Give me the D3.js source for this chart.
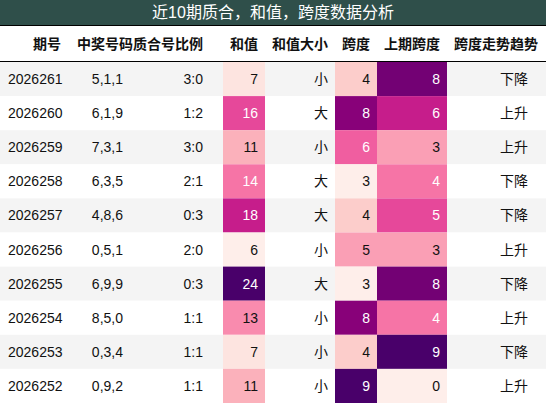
<!DOCTYPE html><html><head><meta charset="utf-8"><script src="https://cdn.jsdelivr.net/npm/d3@7"></script>
<style>body{margin:0;background:#fff}</style></head><body><svg id="c" width="546" height="403"></svg>
<script>
const title="近10期质合，和值，跨度数据分析";
const headers=["期号","中奖号码","质合号比例","和值","和值大小","跨度","上期跨度","跨度走势趋势"];
const issues=["2026261","2026260","2026259","2026258","2026257","2026256","2026255","2026254","2026253","2026252"];
const numbers=["5,1,1","6,1,9","7,3,1","6,3,5","4,8,6","0,5,1","6,9,9","8,5,0","0,3,4","0,9,2"];
const ratios=["3:0","1:2","3:0","2:1","0:3","2:0","0:3","1:1","1:1","1:1"];
const sums=[7,16,11,14,18,6,24,13,7,11];
const sizes=["小","大","小","大","大","小","大","小","小","小"];
const spans=[4,8,6,3,4,5,3,8,4,9];
const prevSpans=[8,6,3,4,5,3,8,4,9,0];
const trends=["下降","上升","上升","下降","下降","上升","下降","上升","下降","上升"];

const svg=d3.select("#c");
const font="'Liberation Sans','Noto Sans CJK SC',sans-serif";
const y=d3.scaleBand().domain(d3.range(10)).range([62,403]);
svg.append("rect").attr("x",0).attr("y",0).attr("width",546).attr("height",25).attr("fill","#2f4f4a");
svg.append("text").attr("x",273).attr("y",18).attr("text-anchor","middle").attr("fill","#fff").attr("font-size",16).attr("font-family",font).text(title);
svg.append("line").attr("x1",0).attr("x2",546).attr("y1",25.5).attr("y2",25.5).attr("stroke","#000");
svg.append("line").attr("x1",0).attr("x2",546).attr("y1",61.5).attr("y2",61.5).attr("stroke","#000");
const hx=[61,133,203,258,328,370,440,538];
headers.forEach((h,i)=>svg.append("text").attr("x",hx[i]).attr("y",49).attr("text-anchor","end").attr("font-weight","bold").attr("font-size",14).attr("font-family",font).attr("fill","#111").text(h));
// row stripes
svg.selectAll("rect.row").data(issues).join("rect").attr("x",0).attr("width",546).attr("y",(d,i)=>y(i)).attr("height",y.bandwidth()).attr("fill",(d,i)=>i%2==0?"#f4f4f4":"#fff");
function heat(vals,x0,x1,tx){
  const ext=d3.extent(vals);const t=d3.scaleLinear().domain(ext).range([0,1]);
  const col=v=>d3.interpolateRdPu(0.05+0.95*t(v));
  svg.append("g").selectAll("rect").data(vals).join("rect").attr("x",x0).attr("width",x1-x0).attr("y",(d,i)=>y(i)).attr("height",y.bandwidth()).attr("fill",col);
  svg.append("g").selectAll("text").data(vals).join("text").attr("x",tx).attr("y",(d,i)=>y(i)+y.bandwidth()/2+5).attr("text-anchor","end").attr("font-size",14).attr("font-family",font).attr("fill",d=>t(d)>0.42?"#fff":"#111").text(d=>d);
}
heat(sums,223,265,258);heat(spans,335,377,370);heat(prevSpans,377,447,440);
const cols=[[issues,8,"start"],[numbers,123,"end"],[ratios,203,"end"],[sizes,328,"end"],[trends,528,"end"]];
cols.forEach(([arr,x,a])=>svg.append("g").selectAll("text").data(arr).join("text").attr("x",x).attr("y",(d,i)=>y(i)+y.bandwidth()/2+5).attr("text-anchor",a).attr("font-size",14).attr("font-family",font).attr("fill","#111").text(d=>d));
</script></body></html>
